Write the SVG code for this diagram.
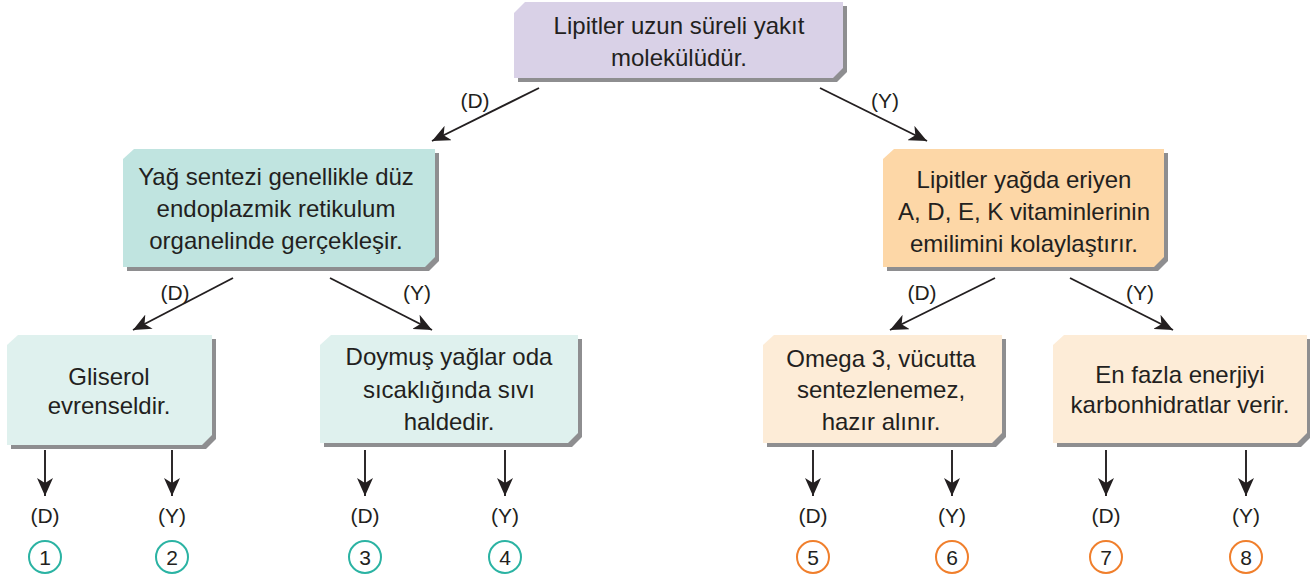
<svg xmlns="http://www.w3.org/2000/svg" width="1310" height="581" viewBox="0 0 1310 581">
<defs>
<marker id="ah" markerUnits="userSpaceOnUse" markerWidth="20" markerHeight="16" viewBox="0 0 20 16" refX="18" refY="8" orient="auto">
<path d="M0,0 L18,8 L0,16 L5,8 z" fill="#231f20"/>
</marker>
</defs>
<style>
.t{font-family:"Liberation Sans",Arial,sans-serif;font-size:24px;fill:#231f20;text-anchor:middle}
.l{font-family:"Liberation Sans",Arial,sans-serif;font-size:21px;fill:#231f20;text-anchor:middle}
.sh{fill:#8e8e90}
.c{stroke:#231f20;stroke-width:1.9;fill:none;marker-end:url(#ah)}
.ct{fill:#fff;stroke:#2bb3a3;stroke-width:2}
.co{fill:#fff;stroke:#f07f2c;stroke-width:2}
</style>
<rect width="1310" height="581" fill="#fff"/>

<g id="n-top">
<path class="sh" d="M528,6 L847,6 L847,72 L837,82 L518,82 L518,16 Z"/>
<path fill="#d9d1e7" d="M525,2 L843,2 L843,68 L833,78 L514,78 L514,13 Z"/>
<text class="t" x="679" y="34">Lipitler uzun süreli yakıt</text>
<text class="t" x="679" y="66">molekülüdür.</text>
</g>

<g id="n-left">
<path class="sh" d="M138,153 L439,153 L439,261 L429,271 L127,271 L127,163 Z"/>
<path fill="#c0e4e0" d="M134,149 L435,149 L435,257 L425,267 L123,267 L123,159 Z"/>
<text class="t" x="276" y="185">Yağ sentezi genellikle düz</text>
<text class="t" x="276" y="217">endoplazmik retikulum</text>
<text class="t" x="276" y="249">organelinde gerçekleşir.</text>
</g>

<g id="n-right">
<path class="sh" d="M898,153 L1168,153 L1168,261 L1158,271 L887,271 L887,163 Z"/>
<path fill="#fdd7a7" d="M894,149 L1164,149 L1164,257 L1154,267 L883,267 L883,159 Z"/>
<text class="t" x="1024" y="188">Lipitler yağda eriyen</text>
<text class="t" x="1024" y="220">A, D, E, K vitaminlerinin</text>
<text class="t" x="1024" y="252">emilimini kolaylaştırır.</text>
</g>

<g id="n-1">
<path class="sh" d="M22,339 L216,339 L216,439 L206,449 L11,449 L11,349 Z"/>
<path fill="#dff1ee" d="M18,335 L212,335 L212,435 L202,445 L7,445 L7,345 Z"/>
<text class="t" x="109" y="385">Gliserol</text>
<text class="t" x="109" y="414">evrenseldir.</text>
</g>

<g id="n-2">
<path class="sh" d="M335,339 L582,339 L582,437 L572,447 L324,447 L324,349 Z"/>
<path fill="#dff1ee" d="M331,335 L578,335 L578,433 L568,443 L320,443 L320,345 Z"/>
<text class="t" x="449" y="365">Doymuş yağlar oda</text>
<text class="t" x="449" y="398">sıcaklığında sıvı</text>
<text class="t" x="449" y="430">haldedir.</text>
</g>

<g id="n-3">
<path class="sh" d="M778,339 L1006,339 L1006,437 L996,447 L767,447 L767,349 Z"/>
<path fill="#fdecd7" d="M774,335 L1002,335 L1002,433 L992,443 L763,443 L763,345 Z"/>
<text class="t" x="881" y="367">Omega 3, vücutta</text>
<text class="t" x="881" y="398">sentezlenemez,</text>
<text class="t" x="881" y="430">hazır alınır.</text>
</g>

<g id="n-4">
<path class="sh" d="M1068,339 L1311,339 L1311,437 L1301,447 L1057,447 L1057,349 Z"/>
<path fill="#fdecd7" d="M1064,335 L1307,335 L1307,433 L1297,443 L1053,443 L1053,345 Z"/>
<text class="t" x="1180" y="383">En fazla enerjiyi</text>
<text class="t" x="1180" y="413">karbonhidratlar verir.</text>
</g>

<g id="connectors">
<line class="c" x1="539" y1="88" x2="432" y2="141"/>
<line class="c" x1="820" y1="88" x2="927" y2="141"/>
<line class="c" x1="233" y1="278" x2="133" y2="330"/>
<line class="c" x1="330" y1="278" x2="432" y2="330"/>
<line class="c" x1="995" y1="278" x2="890" y2="330"/>
<line class="c" x1="1070" y1="278" x2="1173" y2="330"/>
<line class="c" x1="45" y1="450" x2="45" y2="496"/>
<line class="c" x1="172" y1="450" x2="172" y2="496"/>
<line class="c" x1="365" y1="450" x2="365" y2="496"/>
<line class="c" x1="505" y1="450" x2="505" y2="496"/>
<line class="c" x1="813" y1="450" x2="813" y2="496"/>
<line class="c" x1="952" y1="450" x2="952" y2="496"/>
<line class="c" x1="1106" y1="450" x2="1106" y2="496"/>
<line class="c" x1="1246" y1="450" x2="1246" y2="496"/>
</g>

<g id="labels">
<text class="l" x="475" y="108">(D)</text>
<text class="l" x="885" y="108">(Y)</text>
<text class="l" x="175" y="300">(D)</text>
<text class="l" x="417" y="300">(Y)</text>
<text class="l" x="922" y="300">(D)</text>
<text class="l" x="1140" y="300">(Y)</text>
<text class="l" x="45" y="523">(D)</text>
<text class="l" x="172" y="523">(Y)</text>
<text class="l" x="365" y="523">(D)</text>
<text class="l" x="505" y="523">(Y)</text>
<text class="l" x="813" y="523">(D)</text>
<text class="l" x="952" y="523">(Y)</text>
<text class="l" x="1106" y="523">(D)</text>
<text class="l" x="1246" y="523">(Y)</text>
</g>

<g id="numbers">
<circle class="ct" cx="45" cy="557" r="16"/><text class="l" x="45" y="564.5">1</text>
<circle class="ct" cx="172" cy="557" r="16"/><text class="l" x="172" y="564.5">2</text>
<circle class="ct" cx="365" cy="557" r="16"/><text class="l" x="365" y="564.5">3</text>
<circle class="ct" cx="505" cy="557" r="16"/><text class="l" x="505" y="564.5">4</text>
<circle class="co" cx="813" cy="557" r="16"/><text class="l" x="813" y="564.5">5</text>
<circle class="co" cx="952" cy="557" r="16"/><text class="l" x="952" y="564.5">6</text>
<circle class="co" cx="1106" cy="557" r="16"/><text class="l" x="1106" y="564.5">7</text>
<circle class="co" cx="1246" cy="557" r="16"/><text class="l" x="1246" y="564.5">8</text>
</g>
</svg>
